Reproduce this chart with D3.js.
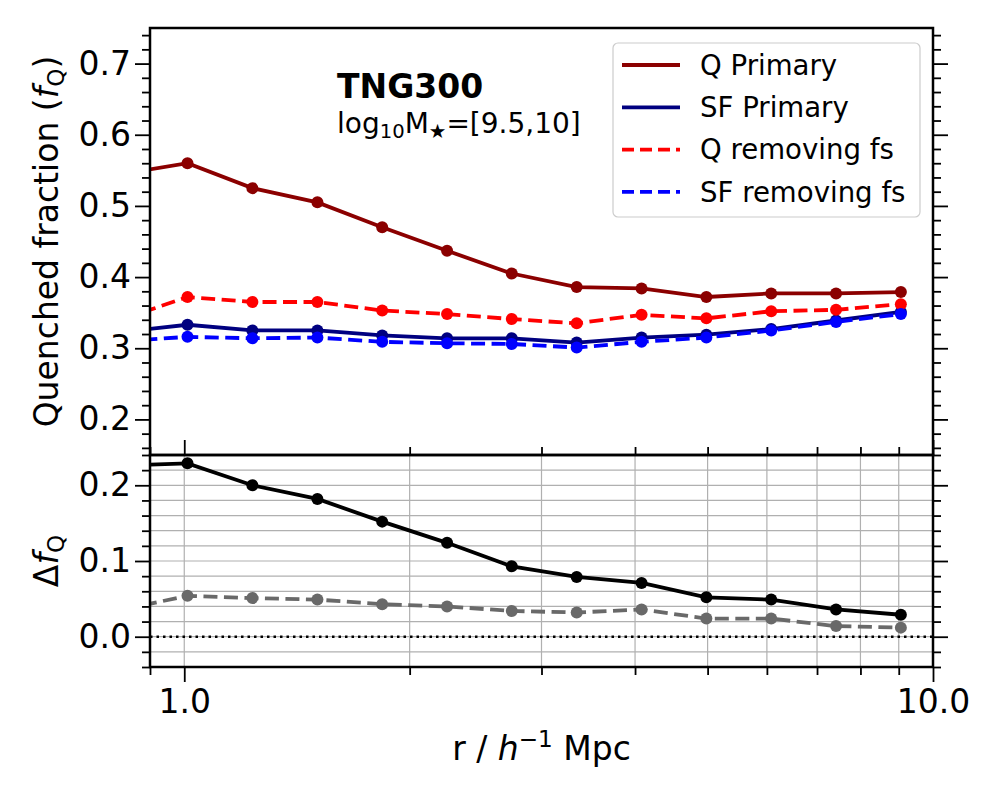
<!DOCTYPE html>
<html><head><meta charset="utf-8">
<script src="https://cdn.jsdelivr.net/npm/d3@7/dist/d3.min.js"></script>
<style>body{margin:0;background:#fff;} text{font-family:"DejaVu Sans",sans-serif;}</style>
</head><body><svg id="c" width="1000" height="800"></svg>
<script>
// ---- data ----
const rVals = [0.828,1.010,1.233,1.506,1.838,2.244,2.738,3.343,4.081,4.981,6.080,7.422,9.059];
const qPrimary   = [0.545,0.560,0.525,0.505,0.470,0.437,0.405,0.386,0.384,0.372,0.377,0.377,0.379];
const sfPrimary  = [0.323,0.333,0.325,0.325,0.318,0.314,0.314,0.308,0.315,0.319,0.327,0.339,0.351];
const qRemoving  = [0.341,0.372,0.365,0.365,0.353,0.348,0.341,0.335,0.347,0.342,0.352,0.354,0.362];
const sfRemoving = [0.310,0.316,0.314,0.315,0.309,0.307,0.306,0.301,0.309,0.315,0.325,0.337,0.348];
const deltaPrimary  = [0.226,0.229,0.200,0.182,0.152,0.124,0.093,0.079,0.071,0.052,0.049,0.036,0.029];
const deltaRemoving = [0.036,0.054,0.051,0.049,0.043,0.040,0.034,0.032,0.036,0.024,0.024,0.014,0.012];
const legendLabels = ["Q Primary","SF Primary","Q removing fs","SF removing fs"];
const topTicks = [0.2,0.3,0.4,0.5,0.6,0.7];
const botTicks = [0.0,0.1,0.2];
const xMajor = [1,10];
const xMinor = [0.9,2,3,4,5,6,7,8,9];

// ---- layout ----
const L=150, R=933, T=28, M=455, B=667;
const svg = d3.select("#c");
const x = d3.scaleLog().domain([0.9,10]).range([L,R]);
const yT = d3.scaleLinear().domain([0.15,0.75]).range([M,T]);
const yB = d3.scaleLinear().domain([-0.04,0.24]).range([B,M]);
const FS = 33, MAJ = 15, MIN = 8, LW = 3.8, MR = 6, DASH = "14,6.5";

const defs = svg.append("defs");
defs.append("clipPath").attr("id","clipT").append("rect").attr("x",L).attr("y",T).attr("width",R-L).attr("height",M-T);
defs.append("clipPath").attr("id","clipB").append("rect").attr("x",L).attr("y",M).attr("width",R-L).attr("height",B-M);

const minorRange = (a,b,s)=>d3.range(Math.round(a/s),Math.round(b/s)+1).map(k=>+(k*s).toFixed(4));
const topMinor = minorRange(0.16,0.74,0.02);
const botMinor = minorRange(-0.04,0.24,0.02);

// ---- bottom grid ----
const gGrid = svg.append("g");
gGrid.selectAll("line.v").data(xMajor.concat(xMinor).filter(v=>v>0.9 && v<10)).join("line")
  .attr("x1",d=>x(d)).attr("x2",d=>x(d)).attr("y1",M).attr("y2",B)
  .attr("stroke","#b0b0b0").attr("stroke-width",1.2);
gGrid.selectAll("line.h").data(botMinor.filter(v=>v>-0.04 && v<0.24)).join("line")
  .attr("x1",L).attr("x2",R).attr("y1",d=>yB(d)).attr("y2",d=>yB(d))
  .attr("stroke","#b0b0b0").attr("stroke-width",1.2);

// ---- series ----
function series(g, scale, vals, color, dash, clip){
  const gg = g.append("g").attr("clip-path",`url(#${clip})`);
  const pts = rVals.map((r,i)=>[r,vals[i]]);
  gg.append("path").attr("d", d3.line().x(d=>x(d[0])).y(d=>scale(d[1]))(pts))
    .attr("fill","none").attr("stroke",color).attr("stroke-width",LW)
    .attr("stroke-dasharray",dash?DASH:null);
  gg.selectAll("circle").data(pts).join("circle")
    .attr("cx",d=>x(d[0])).attr("cy",d=>scale(d[1])).attr("r",MR).attr("fill",color);
}
const topSeries = [
  [qPrimary,"#8b0000",false],
  [sfPrimary,"#000080",false],
  [qRemoving,"#ff0000",true],
  [sfRemoving,"#0000ff",true]
];
topSeries.forEach(s=>series(svg,yT,s[0],s[1],s[2],"clipT"));

// zero line
svg.append("line").attr("x1",L).attr("x2",R).attr("y1",yB(0)).attr("y2",yB(0))
  .attr("stroke","#000").attr("stroke-width",2.5).attr("stroke-dasharray","2.5,4");
series(svg,yB,deltaRemoving,"#696969",true,"clipB");
series(svg,yB,deltaPrimary,"#000000",false,"clipB");

// ---- frames ----
[[T,M],[M,B]].forEach(([a,b])=>{
  svg.append("rect").attr("x",L).attr("y",a).attr("width",R-L).attr("height",b-a)
    .attr("fill","none").attr("stroke","#000").attr("stroke-width",2.5);
});

// ---- axes with d3 ----
function styleAxis(g){
  g.select(".domain").remove();
  g.selectAll("line").attr("stroke","#000").attr("stroke-width",1.8);
  g.selectAll("text").attr("font-size",FS).attr("fill","#000").attr("font-family","DejaVu Sans");
}
function yAxes(scale, major, minor){
  [svg.append("g").attr("transform",`translate(${L},0)`)
      .call(d3.axisLeft(scale).tickValues(minor).tickSize(MIN).tickFormat("")),
   svg.append("g").attr("transform",`translate(${L},0)`)
      .call(d3.axisLeft(scale).tickValues(major).tickSize(MAJ).tickPadding(4).tickFormat(d3.format(".1f"))),
   svg.append("g").attr("transform",`translate(${R},0)`)
      .call(d3.axisRight(scale).tickValues(minor).tickSize(MIN).tickFormat("")),
   svg.append("g").attr("transform",`translate(${R},0)`)
      .call(d3.axisRight(scale).tickValues(major).tickSize(MAJ).tickFormat(""))
  ].forEach(styleAxis);
}
yAxes(yT, topTicks, topMinor.filter(v=>!topTicks.some(t=>Math.abs(t-v)<1e-6)));
yAxes(yB, botTicks, botMinor.filter(v=>!botTicks.some(t=>Math.abs(t-v)<1e-6)));

[svg.append("g").attr("transform",`translate(0,${B})`)
    .call(d3.axisBottom(x).tickValues(xMinor).tickSize(MIN).tickFormat("")),
 svg.append("g").attr("transform",`translate(0,${B})`)
    .call(d3.axisBottom(x).tickValues(xMajor).tickSize(MAJ).tickPadding(8).tickFormat(d3.format(".1f"))),
 svg.append("g").attr("transform",`translate(0,${M})`)
    .call(d3.axisTop(x).tickValues(xMinor).tickSize(MIN).tickFormat("")),
 svg.append("g").attr("transform",`translate(0,${M})`)
    .call(d3.axisTop(x).tickValues(xMajor).tickSize(MAJ).tickFormat(""))
].forEach(styleAxis);

// ---- axis labels ----
const yl = svg.append("text").attr("transform",`translate(58,${(T+M)/2}) rotate(-90)`)
  .attr("text-anchor","middle").attr("font-size",FS);
yl.append("tspan").text("Quenched fraction (");
yl.append("tspan").attr("font-style","italic").text("f");
yl.append("tspan").attr("font-size",FS*0.7).attr("dy",6).text("Q");
yl.append("tspan").attr("dy",-6).text(")");

const yl2 = svg.append("text").attr("transform",`translate(58,${(M+B)/2}) rotate(-90)`)
  .attr("text-anchor","middle").attr("font-size",FS);
yl2.append("tspan").text("Δ");
yl2.append("tspan").attr("font-style","italic").text("f");
yl2.append("tspan").attr("font-size",FS*0.7).attr("dy",6).text("Q");

const xl = svg.append("text").attr("x",(L+R)/2).attr("y",760).attr("text-anchor","middle").attr("font-size",FS);
xl.append("tspan").text("r / ");
xl.append("tspan").attr("font-style","italic").text("h");
xl.append("tspan").attr("font-size",FS*0.7).attr("dy",-13).text("−1");
xl.append("tspan").attr("dy",13).text(" Mpc");

// ---- annotations ----
svg.append("text").attr("x",337).attr("y",98).attr("font-size",33).attr("font-weight","bold").text("TNG300");
const LF = 28;
const lt = svg.append("text").attr("x",337).attr("y",133).attr("font-size",LF);
lt.append("tspan").text("log");
lt.append("tspan").attr("font-size",LF*0.7).attr("dy",5).text("10");
lt.append("tspan").attr("dy",-5).text("M");
lt.append("tspan").attr("font-size",LF*0.7).attr("dy",5).text("★");
lt.append("tspan").attr("dy",-5).text("=[9.5,10]");

// ---- legend ----
const lg = svg.append("g");
lg.append("rect").attr("x",613).attr("y",43).attr("width",307).attr("height",174).attr("rx",5)
  .attr("fill","#fff").attr("fill-opacity",0.8).attr("stroke","#cccccc").attr("stroke-width",1.2);
legendLabels.forEach((lab,i)=>{
  const yy = 65 + i*42.3;
  lg.append("line").attr("x1",622).attr("x2",680).attr("y1",yy).attr("y2",yy)
    .attr("stroke",topSeries[i][1]).attr("stroke-width",LW)
    .attr("stroke-dasharray",topSeries[i][2]?"12,6":null);
  lg.append("text").attr("x",700).attr("y",yy).attr("dy","0.35em").attr("font-size",27.6).text(lab);
});
</script></body></html>
